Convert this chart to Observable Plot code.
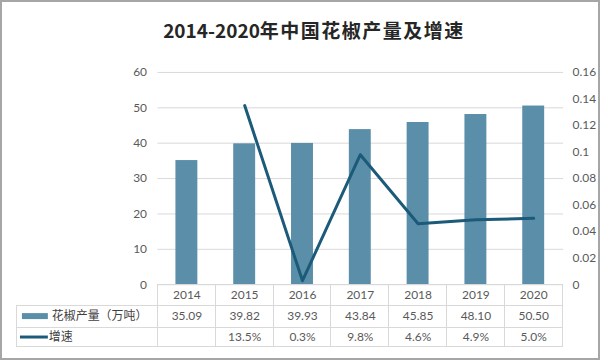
<!DOCTYPE html>
<html><head><meta charset="utf-8">
<script src="https://cdn.jsdelivr.net/npm/d3@7"></script>
<script src="https://cdn.jsdelivr.net/npm/@observablehq/plot@0.6"></script>
<style>
html,body{margin:0;padding:0;background:#fff}
#wrap{position:relative;width:600px;height:360px;box-sizing:border-box;border:2px solid #a6a6a6;overflow:hidden;font-family:Lato,"Noto Sans CJK SC",sans-serif;background:#fff}
#title{position:absolute;top:14px;left:12px;width:600px;text-align:center;font:bold 19px "Noto Sans CJK SC",sans-serif;color:#262626;white-space:nowrap}
#title .cjk{letter-spacing:1.5px}
#chart{position:absolute;top:48px;left:-2px}
</style></head><body>
<div id="wrap"><div id="title"><span>2014-2020</span><span class="cjk">年中国花椒产量及增速</span></div><div id="chart"></div></div>
<script>
const years = ["2014","2015","2016","2017","2018","2019","2020"];
const output = [35.09, 39.82, 39.93, 43.84, 45.85, 48.10, 50.50];
const growth = [null, 0.135, 0.003, 0.098, 0.046, 0.049, 0.050];
const growthLabels = ["", "13.5%", "0.3%", "9.8%", "4.6%", "4.9%", "5.0%"];
const seriesNames = ["花椒产量（万吨）", "增速"];
const leftTicks = [0, 10, 20, 30, 40, 50, 60];
const rightTicks = [0, 0.02, 0.04, 0.06, 0.08, 0.1, 0.12, 0.14, 0.16];

const barColor = "#5b8ea8";
const lineColor = "#1b5a78";
const textColor = "#595959";
const gridColor = "#d9d9d9";
const k = 60 / 0.16; // right axis -> left axis units

const idx = years.map((_, i) => i);
const lineIdx = idx.filter(i => growth[i] != null);

const plot = Plot.plot({
  width: 600,
  height: 310,
  marginLeft: 158,
  marginRight: 35,
  marginTop: 22,
  marginBottom: 75,
  style: {fontFamily: "Lato, 'Noto Sans CJK SC', sans-serif", fontSize: "12px", color: textColor, background: "transparent"},
  x: {domain: years, paddingInner: 0.62, paddingOuter: 0.31, label: null},
  y: {domain: [0, 60], label: null},
  marks: [
    Plot.gridY(leftTicks, {stroke: gridColor, strokeOpacity: 1}),
    Plot.axisY(leftTicks, {anchor: "left", tickSize: 0, tickPadding: 11, label: null, fontSize: 12}),
    Plot.axisY(rightTicks.map(v => v * k), {anchor: "right", tickSize: 0, tickPadding: 9, label: null, fontSize: 12, textAnchor: "start",
      tickFormat: d => String(+(d / k).toFixed(2))}),
    Plot.barY(idx, {x: i => years[i], y: i => output[i], fill: barColor}),
    Plot.line(lineIdx, {x: i => years[i], y: i => growth[i] * k, stroke: lineColor, strokeWidth: 3}),
    Plot.axisX({tickSize: 0, tickPadding: 6, label: null, fontSize: 12}),
    Plot.text(idx, {x: i => years[i], y: () => 0, dy: 32, text: i => output[i].toFixed(2), fill: textColor, fontSize: 12}),
    Plot.text(idx, {x: i => years[i], y: () => 0, dy: 53, text: i => growthLabels[i], fill: textColor, fontSize: 12})
  ]
});
document.getElementById("chart").appendChild(plot);

// table grid and legend, positioned with the plot's own scales
const xs = plot.scale("x");
const ys = plot.scale("y");
const svg = d3.select(plot);
const y0 = ys.apply(0);
const step = xs.step;
const bw = xs.bandwidth;
const centers = years.map(y => xs.apply(y) + bw / 2);
const left = centers[0] - step / 2;
const right = centers[centers.length - 1] + step / 2;
const rowY = [y0 + 21, y0 + 43, y0 + 63];
const tableLeft = 17;
const g = svg.append("g").attr("stroke", gridColor).attr("stroke-width", 1).attr("shape-rendering", "crispEdges");
g.append("line").attr("x1", left).attr("x2", right).attr("y1", y0).attr("y2", y0);
rowY.forEach(y => g.append("line").attr("x1", tableLeft).attr("x2", right).attr("y1", y).attr("y2", y));
centers.forEach(c => g.append("line").attr("x1", c - step / 2).attr("x2", c - step / 2).attr("y1", y0).attr("y2", rowY[2]));
g.append("line").attr("x1", right).attr("x2", right).attr("y1", y0).attr("y2", rowY[2]);
g.append("line").attr("x1", tableLeft).attr("x2", tableLeft).attr("y1", rowY[0]).attr("y2", rowY[2]);
// legend
const lg = svg.append("g").attr("text-anchor", "start");
const r1 = (rowY[0] + rowY[1]) / 2, r2 = (rowY[1] + rowY[2]) / 2;
lg.append("rect").attr("x", 22).attr("y", r1 - 3).attr("width", 26).attr("height", 6).attr("fill", barColor);
lg.append("line").attr("x1", 20).attr("x2", 48).attr("y1", r2).attr("y2", r2).attr("stroke", lineColor).attr("stroke-width", 3);
lg.append("text").attr("x", 52).attr("y", r1).attr("dy", "0.35em").attr("fill", "#404040").attr("text-anchor", "start")
  .attr("font-family", "'Noto Sans CJK SC'").attr("font-size", 12).text(seriesNames[0]);
lg.append("text").attr("x", 49).attr("y", r2).attr("dy", "0.35em").attr("fill", "#404040").attr("text-anchor", "start")
  .attr("font-family", "'Noto Sans CJK SC'").attr("font-size", 12).text(seriesNames[1]);
</script>
</body></html>
